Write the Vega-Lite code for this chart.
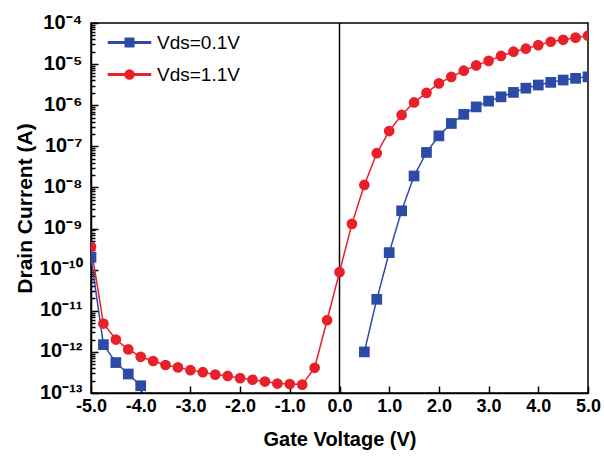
{
  "$schema": "https://vega.github.io/schema/vega-lite/v6.json",
  "width": 497,
  "height": 370,
  "autosize": {"type": "none"},
  "padding": {"left": 91, "top": 23, "right": 16, "bottom": 63},
  "config": {
    "view": {"stroke": "#000", "strokeWidth": 1.5},
    "font": "Liberation Sans"
  },
  "data": {
    "values": [
      {"series": "Vds=0.1V", "seg": "a", "V": -5.0, "I": 2.0e-10},
      {"series": "Vds=0.1V", "seg": "a", "V": -4.75, "I": 1.5e-12},
      {"series": "Vds=0.1V", "seg": "a", "V": -4.5, "I": 5.5e-13},
      {"series": "Vds=0.1V", "seg": "a", "V": -4.25, "I": 2.9e-13},
      {"series": "Vds=0.1V", "seg": "a", "V": -4.0, "I": 1.5e-13},
      {"series": "Vds=0.1V", "seg": "b", "V": 0.5, "I": 1.0e-12},
      {"series": "Vds=0.1V", "seg": "b", "V": 0.75, "I": 1.9e-11},
      {"series": "Vds=0.1V", "seg": "b", "V": 1.0, "I": 2.6e-10},
      {"series": "Vds=0.1V", "seg": "b", "V": 1.25, "I": 2.7e-9},
      {"series": "Vds=0.1V", "seg": "b", "V": 1.5, "I": 1.9e-8},
      {"series": "Vds=0.1V", "seg": "b", "V": 1.75, "I": 7.1e-8},
      {"series": "Vds=0.1V", "seg": "b", "V": 2.0, "I": 1.8e-7},
      {"series": "Vds=0.1V", "seg": "b", "V": 2.25, "I": 3.6e-7},
      {"series": "Vds=0.1V", "seg": "b", "V": 2.5, "I": 6.0e-7},
      {"series": "Vds=0.1V", "seg": "b", "V": 2.75, "I": 9.1e-7},
      {"series": "Vds=0.1V", "seg": "b", "V": 3.0, "I": 1.26e-6},
      {"series": "Vds=0.1V", "seg": "b", "V": 3.25, "I": 1.6e-6},
      {"series": "Vds=0.1V", "seg": "b", "V": 3.5, "I": 2.05e-6},
      {"series": "Vds=0.1V", "seg": "b", "V": 3.75, "I": 2.6e-6},
      {"series": "Vds=0.1V", "seg": "b", "V": 4.0, "I": 3.1e-6},
      {"series": "Vds=0.1V", "seg": "b", "V": 4.25, "I": 3.6e-6},
      {"series": "Vds=0.1V", "seg": "b", "V": 4.5, "I": 4.1e-6},
      {"series": "Vds=0.1V", "seg": "b", "V": 4.75, "I": 4.5e-6},
      {"series": "Vds=0.1V", "seg": "b", "V": 5.0, "I": 4.9e-6},
      {"series": "Vds=1.1V", "seg": "r", "V": -5.0, "I": 3.6e-10},
      {"series": "Vds=1.1V", "seg": "r", "V": -4.75, "I": 4.9e-12},
      {"series": "Vds=1.1V", "seg": "r", "V": -4.5, "I": 2.0e-12},
      {"series": "Vds=1.1V", "seg": "r", "V": -4.25, "I": 1.15e-12},
      {"series": "Vds=1.1V", "seg": "r", "V": -4.0, "I": 7.6e-13},
      {"series": "Vds=1.1V", "seg": "r", "V": -3.75, "I": 6.0e-13},
      {"series": "Vds=1.1V", "seg": "r", "V": -3.5, "I": 4.8e-13},
      {"series": "Vds=1.1V", "seg": "r", "V": -3.25, "I": 4.2e-13},
      {"series": "Vds=1.1V", "seg": "r", "V": -3.0, "I": 3.6e-13},
      {"series": "Vds=1.1V", "seg": "r", "V": -2.75, "I": 3.2e-13},
      {"series": "Vds=1.1V", "seg": "r", "V": -2.5, "I": 2.8e-13},
      {"series": "Vds=1.1V", "seg": "r", "V": -2.25, "I": 2.6e-13},
      {"series": "Vds=1.1V", "seg": "r", "V": -2.0, "I": 2.3e-13},
      {"series": "Vds=1.1V", "seg": "r", "V": -1.75, "I": 2.1e-13},
      {"series": "Vds=1.1V", "seg": "r", "V": -1.5, "I": 1.9e-13},
      {"series": "Vds=1.1V", "seg": "r", "V": -1.25, "I": 1.7e-13},
      {"series": "Vds=1.1V", "seg": "r", "V": -1.0, "I": 1.65e-13},
      {"series": "Vds=1.1V", "seg": "r", "V": -0.75, "I": 1.6e-13},
      {"series": "Vds=1.1V", "seg": "r", "V": -0.5, "I": 4.1e-13},
      {"series": "Vds=1.1V", "seg": "r", "V": -0.25, "I": 5.9e-12},
      {"series": "Vds=1.1V", "seg": "r", "V": 0.0, "I": 8.7e-11},
      {"series": "Vds=1.1V", "seg": "r", "V": 0.25, "I": 1.3e-9},
      {"series": "Vds=1.1V", "seg": "r", "V": 0.5, "I": 1.15e-8},
      {"series": "Vds=1.1V", "seg": "r", "V": 0.75, "I": 6.8e-8},
      {"series": "Vds=1.1V", "seg": "r", "V": 1.0, "I": 2.35e-7},
      {"series": "Vds=1.1V", "seg": "r", "V": 1.25, "I": 5.8e-7},
      {"series": "Vds=1.1V", "seg": "r", "V": 1.5, "I": 1.17e-6},
      {"series": "Vds=1.1V", "seg": "r", "V": 1.75, "I": 2.0e-6},
      {"series": "Vds=1.1V", "seg": "r", "V": 2.0, "I": 3.4e-6},
      {"series": "Vds=1.1V", "seg": "r", "V": 2.25, "I": 4.9e-6},
      {"series": "Vds=1.1V", "seg": "r", "V": 2.5, "I": 6.9e-6},
      {"series": "Vds=1.1V", "seg": "r", "V": 2.75, "I": 9.3e-6},
      {"series": "Vds=1.1V", "seg": "r", "V": 3.0, "I": 1.2e-5},
      {"series": "Vds=1.1V", "seg": "r", "V": 3.25, "I": 1.58e-5},
      {"series": "Vds=1.1V", "seg": "r", "V": 3.5, "I": 2.0e-5},
      {"series": "Vds=1.1V", "seg": "r", "V": 3.75, "I": 2.37e-5},
      {"series": "Vds=1.1V", "seg": "r", "V": 4.0, "I": 2.9e-5},
      {"series": "Vds=1.1V", "seg": "r", "V": 4.25, "I": 3.5e-5},
      {"series": "Vds=1.1V", "seg": "r", "V": 4.5, "I": 3.9e-5},
      {"series": "Vds=1.1V", "seg": "r", "V": 4.75, "I": 4.4e-5},
      {"series": "Vds=1.1V", "seg": "r", "V": 5.0, "I": 4.9e-5}
    ]
  },
  "layer": [
    {
      "data": {"values": [{"V": 0}]},
      "mark": {"type": "rule", "color": "#000", "strokeWidth": 1.5},
      "encoding": {
        "x": {"field": "V", "type": "quantitative"}
      }
    },
    {
      "mark": {"type": "line", "strokeWidth": 1.5, "clip": true},
      "encoding": {
        "x": {
          "field": "V", "type": "quantitative",
          "scale": {"domain": [-5, 5], "nice": false, "zero": false},
          "axis": {
            "title": "Gate Voltage (V)",
            "titleFont": "Liberation Sans", "titleFontSize": 20, "titleFontWeight": "bold", "titleColor": "#000",
            "titlePadding": 14,
            "values": [-5, -4.5, -4, -3.5, -3, -2.5, -2, -1.5, -1, -0.5, 0, 0.5, 1, 1.5, 2, 2.5, 3, 3.5, 4, 4.5, 5],
            "labelExpr": "datum.value % 1 === 0 ? replace(format(datum.value, '.1f'), '\u2212', '-') : ''",
            "labelFont": "Liberation Sans", "labelFontSize": 18, "labelFontWeight": "bold", "labelColor": "#000",
            "labelPadding": 11, "labelFlush": false, "labelOverlap": false,
            "tickSize": {"condition": {"test": "datum.value % 1 === 0", "value": -7}, "value": -4},
            "tickColor": "#000", "tickWidth": 1.5,
            "domainColor": "#000", "domainWidth": 1.5,
            "grid": false
          }
        },
        "y": {
          "field": "I", "type": "quantitative",
          "scale": {"type": "log", "domain": [1e-13, 1e-4], "nice": false},
          "axis": {
            "title": "Drain Current (A)",
            "titleFont": "Liberation Sans", "titleFontSize": 21, "titleFontWeight": "bold", "titleColor": "#000",
            "titlePadding": 4,
            "values": [1e-13, 2e-13, 3e-13, 4e-13, 5e-13, 6e-13, 7e-13, 8e-13, 9e-13,
                       1e-12, 2e-12, 3e-12, 4e-12, 5e-12, 6e-12, 7e-12, 8e-12, 9e-12,
                       1e-11, 2e-11, 3e-11, 4e-11, 5e-11, 6e-11, 7e-11, 8e-11, 9e-11,
                       1e-10, 2e-10, 3e-10, 4e-10, 5e-10, 6e-10, 7e-10, 8e-10, 9e-10,
                       1e-9, 2e-9, 3e-9, 4e-9, 5e-9, 6e-9, 7e-9, 8e-9, 9e-9,
                       1e-8, 2e-8, 3e-8, 4e-8, 5e-8, 6e-8, 7e-8, 8e-8, 9e-8,
                       1e-7, 2e-7, 3e-7, 4e-7, 5e-7, 6e-7, 7e-7, 8e-7, 9e-7,
                       1e-6, 2e-6, 3e-6, 4e-6, 5e-6, 6e-6, 7e-6, 8e-6, 9e-6,
                       1e-5, 2e-5, 3e-5, 4e-5, 5e-5, 6e-5, 7e-5, 8e-5, 9e-5, 1e-4],
            "labelExpr": "abs(log(datum.value)/LN10 - round(log(datum.value)/LN10)) < 0.001 ? ['10\u207b\u2074','10\u207b\u2075','10\u207b\u2076','10\u207b\u2077','10\u207b\u2078','10\u207b\u2079','10\u207b\u00b9\u2070','10\u207b\u00b9\u00b9','10\u207b\u00b9\u00b2','10\u207b\u00b9\u00b3'][round(-log(datum.value)/LN10) - 4] : ''",
            "labelFont": "Liberation Sans", "labelFontSize": 20, "labelFontWeight": "bold", "labelColor": "#000",
            "labelPadding": 16, "labelOverlap": false, "labelFlush": false, "labelOffset": -1,
            "tickSize": {"condition": {"test": "abs(log(datum.value)/LN10 - round(log(datum.value)/LN10)) < 0.001", "value": -7}, "value": -4},
            "tickColor": "#000", "tickWidth": 1.5,
            "domainColor": "#000", "domainWidth": 1.5,
            "grid": false
          }
        },
        "color": {
          "field": "series", "type": "nominal",
          "scale": {"domain": ["Vds=0.1V", "Vds=1.1V"], "range": ["#2B4BA6", "#E8202A"]},
          "legend": {
            "title": null,
            "orient": "top-left",
            "offset": 6,
            "padding": 4,
            "labelFont": "Liberation Sans", "labelFontSize": 19, "labelColor": "#000",
            "symbolSize": 100,
            "symbolOffset": 19,
            "labelOffset": 18,
            "rowPadding": 12
          }
        },
        "detail": {"field": "seg"}
      }
    },
    {
      "transform": [{"filter": "false"}],
      "mark": {"type": "point", "filled": true, "opacity": 1, "size": 100},
      "encoding": {
        "x": {"field": "V", "type": "quantitative"},
        "y": {"field": "I", "type": "quantitative"},
        "shape": {
          "field": "series", "type": "nominal",
          "scale": {"domain": ["Vds=0.1V", "Vds=1.1V"], "range": ["M-4.2,-0.13H4.2V0.13H-4.2Z M-0.85,-0.85H0.85V0.85H-0.85Z", "M-4.2,-0.13H4.2V0.13H-4.2Z M-0.9,0A0.9,0.9 0 1,1 0.9,0A0.9,0.9 0 1,1 -0.9,0Z"]}
        },
        "color": {"field": "series", "type": "nominal"}
      }
    },
    {
      "transform": [{"filter": "datum.series === 'Vds=0.1V'"}],
      "mark": {"type": "point", "filled": true, "opacity": 1, "size": 115, "shape": "square", "color": "#2B4BA6", "clip": true},
      "encoding": {
        "x": {"field": "V", "type": "quantitative"},
        "y": {"field": "I", "type": "quantitative"}
      }
    },
    {
      "transform": [{"filter": "datum.series === 'Vds=1.1V'"}],
      "mark": {"type": "point", "filled": true, "opacity": 1, "size": 115, "shape": "circle", "color": "#E8202A", "clip": true},
      "encoding": {
        "x": {"field": "V", "type": "quantitative"},
        "y": {"field": "I", "type": "quantitative"}
      }
    }
  ]
}
